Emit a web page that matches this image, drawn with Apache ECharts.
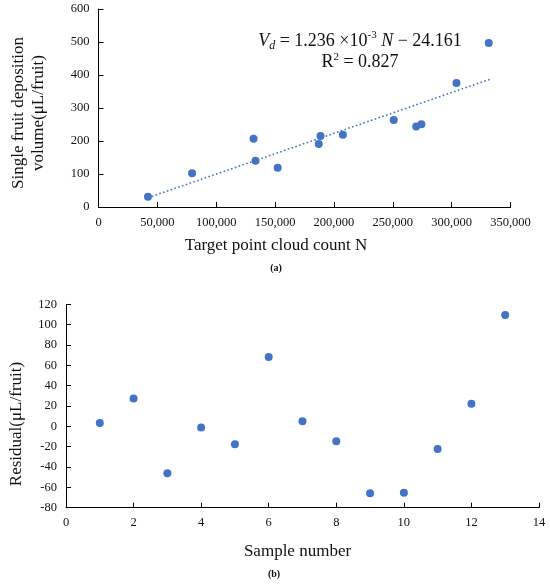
<!DOCTYPE html>
<html>
<head>
<meta charset="utf-8">
<script src="https://cdn.jsdelivr.net/npm/echarts@6/dist/echarts.min.js"></script>
<style>
  html, body { margin: 0; padding: 0; background: #fff; }
  #main { width: 550px; height: 588px; }
</style>
</head>
<body>
<div id="main"></div>
<script>
// (a) target point cloud count vs single fruit deposition volume
var pointCount = [42000, 79500, 131700, 133400, 152200, 187100, 188600, 207600, 250800, 269900, 274300, 304100, 331500];
var depositVol = [31, 102, 207, 140, 119, 191, 215, 219, 264, 244, 251, 376, 497];
// fitted trend line ends
var trendN = [42000, 332500];
var trendV = [28, 387];

// (b) residuals by sample number
var sampleNo = [1, 2, 3, 4, 5, 6, 7, 8, 9, 10, 11, 12, 13];
var residual = [3.4, 27.3, -46.1, -1.2, -17.6, 68.3, 5.0, -14.7, -65.8, -65.2, -22.3, 22.3, 109.4];

var FONT = '"Liberation Serif", "Times New Roman", serif';
var BLUE = '#4472C4';

function pairs(a, b) {
  return a.map(function (v, i) { return [v, b[i]]; });
}

function axisBase(extra) {
  var base = {
    type: 'value',
    splitLine: { show: false },
    axisLine: { show: true, onZero: false, lineStyle: { color: '#000', width: 1 } },
    axisTick: { show: true, inside: true, length: 5, lineStyle: { color: '#000' } },
    axisLabel: { color: '#111', fontFamily: FONT, fontSize: 12.5, margin: 9 },
    nameLocation: 'middle',
    nameTextStyle: { color: '#111', fontFamily: FONT, fontSize: 17 }
  };
  return Object.assign(base, extra);
}

var chart = echarts.init(document.getElementById('main'), null, { renderer: 'canvas' });

var option = {
  animation: false,
  grid: [
    { left: 98.5, right: 39.5, top: 9, height: 198 },
    { left: 65.7, right: 11, top: 304.3, height: 203.4 }
  ],
  xAxis: [
    axisBase({
      gridIndex: 0, min: 0, max: 350000, interval: 50000,
      name: 'Target point cloud count N', nameGap: 30,
      nameTextStyle: { color: '#111', fontFamily: FONT, fontSize: 17, padding: [0, 57, 0, 0] },
      axisLabel: {
        color: '#111', fontFamily: FONT, fontSize: 12.5, margin: 9,
        formatter: function (v) { return v.toLocaleString('en-US'); }
      }
    }),
    axisBase({
      gridIndex: 1, min: 0, max: 14, interval: 2,
      name: 'Sample number', nameGap: 35,
      nameTextStyle: { color: '#111', fontFamily: FONT, fontSize: 17, padding: [0, 10, 0, 0] }
    })
  ],
  yAxis: [
    axisBase({
      gridIndex: 0, min: 0, max: 600, interval: 100,
      name: 'Single fruit deposition\nvolume(μL/fruit)', nameGap: 50,
      nameTextStyle: { color: '#111', fontFamily: FONT, fontSize: 17, lineHeight: 20, padding: [0, 10, 0, 0] }
    }),
    axisBase({
      gridIndex: 1, min: -80, max: 120, interval: 20,
      name: 'Residual(μL/fruit)', nameGap: 41,
      nameTextStyle: { color: '#111', fontFamily: FONT, fontSize: 17, padding: [0, 36, 0, 0] }
    })
  ],
  series: [
    {
      type: 'line',
      xAxisIndex: 0, yAxisIndex: 0,
      data: pairs(trendN, trendV),
      showSymbol: false,
      lineStyle: { color: BLUE, width: 1.6, type: [1.6, 2.4] },
      z: 1
    },
    {
      type: 'scatter',
      xAxisIndex: 0, yAxisIndex: 0,
      data: pairs(pointCount, depositVol),
      symbolSize: 8,
      itemStyle: { color: BLUE, opacity: 1 },
      z: 2
    },
    {
      type: 'scatter',
      xAxisIndex: 1, yAxisIndex: 1,
      data: pairs(sampleNo, residual),
      symbolSize: 8,
      itemStyle: { color: BLUE, opacity: 1 }
    }
  ],
  graphic: [
    {
      type: 'text',
      x: 360, y: 41,
      style: {
        text: '{i|V}{sub|d}{n| = 1.236 ×10}{sup|-3}{n| }{i|N}{n| − 24.161}',
        align: 'center', verticalAlign: 'middle',
        rich: {
          n: { fontFamily: FONT, fontSize: 18, fill: '#111', lineHeight: 22 },
          i: { fontFamily: FONT, fontSize: 18, fontStyle: 'italic', fill: '#111', lineHeight: 22 },
          sub: { fontFamily: FONT, fontSize: 12, fontStyle: 'italic', fill: '#111', lineHeight: 12, verticalAlign: 'bottom' },
          sup: { fontFamily: FONT, fontSize: 11, fill: '#111', lineHeight: 14, verticalAlign: 'top' }
        }
      }
    },
    {
      type: 'text',
      x: 360, y: 62.5,
      style: {
        text: '{n|R}{sup|2}{n| = 0.827}',
        align: 'center', verticalAlign: 'middle',
        rich: {
          n: { fontFamily: FONT, fontSize: 18, fill: '#111', lineHeight: 22 },
          sup: { fontFamily: FONT, fontSize: 11, fill: '#111', lineHeight: 14, verticalAlign: 'top' }
        }
      }
    },
    {
      type: 'text',
      x: 276, y: 268,
      style: { text: '(a)', align: 'center', verticalAlign: 'middle',
        fontFamily: FONT, fontSize: 10, fontWeight: 'bold', fill: '#111' }
    },
    {
      type: 'text',
      x: 274, y: 574,
      style: { text: '(b)', align: 'center', verticalAlign: 'middle',
        fontFamily: FONT, fontSize: 10, fontWeight: 'bold', fill: '#111' }
    }
  ]
};

chart.setOption(option);
</script>
</body>
</html>
